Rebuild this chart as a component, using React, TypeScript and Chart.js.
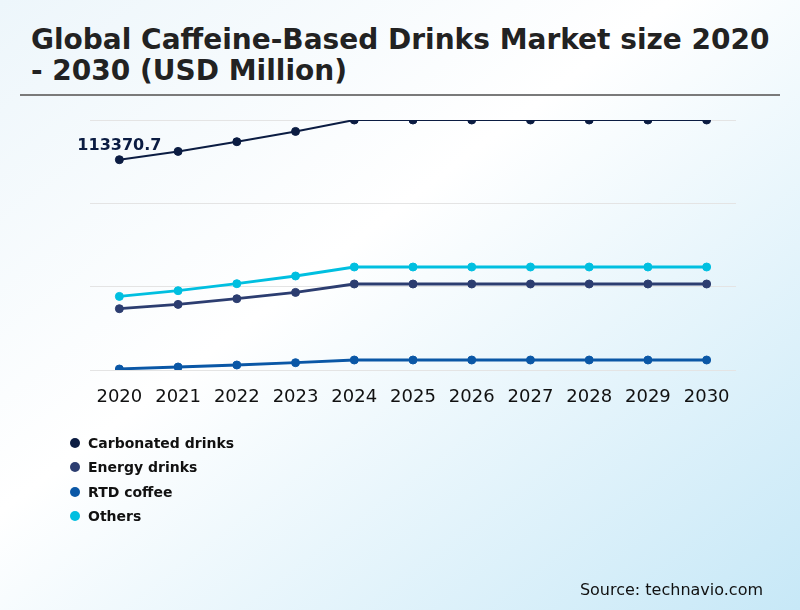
import React, { useEffect, useRef } from "react";
import { Chart, registerables } from "chart.js";

Chart.register(...registerables);

const years = ["2020", "2021", "2022", "2023", "2024", "2025", "2026", "2027", "2028", "2029", "2030"];
const carbonated = [113370.7, 117070, 121400, 125990, 131080, 131080, 131080, 131080, 131080, 131080, 131080];
const energy = [46900, 48820, 51360, 54170, 57920, 57920, 57920, 57920, 57920, 57920, 57920];
const rtdCoffee = [20000, 20890, 21780, 22810, 24010, 24010, 24010, 24010, 24010, 24010, 24010];
const others = [52390, 54930, 58050, 61490, 65500, 65500, 65500, 65500, 65500, 65500, 65500];
const seriesNames = ["Carbonated drinks", "Energy drinks", "RTD coffee", "Others"];
const seriesColors = ["#0b1c42", "#2c3d70", "#0a57a6", "#00bfe0"];
const yMin = 19550;
const yMax = 131080;

const FONT = "'DejaVu Sans', sans-serif";

const labelPlugin = {
  id: "firstLabel",
  afterDatasetsDraw(chart: any) {
    const meta = chart.getDatasetMeta(0);
    const pt = meta.data[0];
    if (!pt) return;
    const ctx = chart.ctx;
    ctx.save();
    ctx.font = "bold 16px " + FONT;
    ctx.fillStyle = seriesColors[0];
    ctx.textAlign = "center";
    ctx.textBaseline = "alphabetic";
    ctx.fillText(String(carbonated[0]), pt.x, pt.y - 9.5);
    ctx.restore();
  },
};

export default function App() {
  const ref = useRef<HTMLCanvasElement | null>(null);
  useEffect(() => {
    if (!ref.current) return;
    const data = [carbonated, energy, rtdCoffee, others];
    const widths = [2, 2.8, 2.8, 2.8];
    const chart = new Chart(ref.current, {
      type: "line",
      data: {
        labels: years,
        datasets: data.map((d, i) => ({
          label: seriesNames[i],
          data: d,
          borderColor: seriesColors[i],
          backgroundColor: seriesColors[i],
          pointBackgroundColor: seriesColors[i],
          pointBorderColor: seriesColors[i],
          borderWidth: widths[i],
          pointRadius: 4,
          pointBorderWidth: 1,
          tension: 0,
          fill: false,
        })),
      },
      options: {
        responsive: false,
        animation: false,
        layout: { padding: { left: 90, right: 64, top: 120, bottom: 200 } },
        plugins: {
          legend: { display: false },
          title: { display: false },
          tooltip: { enabled: false },
        },
        scales: {
          x: {
            offset: true,
            grid: { display: false, drawTicks: false },
            border: { display: false },
            ticks: {
              color: "#111111",
              font: { family: FONT, size: 18 },
              padding: 17,
              maxRotation: 0,
              autoSkip: false,
            },
            afterFit: (s: any) => {
              s.height = 40;
            },
          },
          y: {
            min: yMin,
            max: yMax,
            grid: { color: "#e4e4e4", lineWidth: 1, drawTicks: false },
            border: { display: false },
            ticks: { display: false },
            afterBuildTicks: (s: any) => {
              const t = [];
              for (let i = 0; i <= 3; i++) t.push({ value: yMin + (i * (yMax - yMin)) / 3 });
              s.ticks = t;
            },
            afterFit: (s: any) => {
              s.width = 0;
            },
          },
        },
      },
      plugins: [labelPlugin],
    });
    return () => chart.destroy();
  }, []);

  return (
    <div
      style={{
        position: "fixed",
        left: 0,
        top: 0,
        width: 800,
        height: 610,
        overflow: "hidden",
        background: "linear-gradient(to bottom right, #edf6fb 0%, #ffffff 42%, #c7e8f7 100%)",
        fontFamily: FONT,
      }}
    >
      <div
        style={{
          position: "absolute",
          left: 31,
          top: 24,
          fontSize: 28,
          fontWeight: "bold",
          lineHeight: "31px",
          color: "#222222",
          whiteSpace: "nowrap",
        }}
      >
        Global Caffeine-Based Drinks Market size 2020
        <br />- 2030 (USD Million)
      </div>
      <div style={{ position: "absolute", left: 20, top: 94, width: 760, height: 2, background: "#7a7a7a" }} />
      <canvas ref={ref} width={800} height={610} style={{ position: "absolute", left: 0, top: 0 }} />
      <div style={{ position: "absolute", left: 70, top: 431 }}>
        {seriesNames.map((n, i) => (
          <div key={n} style={{ display: "flex", alignItems: "center", height: 24.3 }}>
            <span
              style={{
                display: "inline-block",
                width: 10,
                height: 10,
                borderRadius: 5,
                background: seriesColors[i],
                marginRight: 8,
              }}
            />
            <span style={{ fontSize: 14, fontWeight: "bold", color: "#111111" }}>{n}</span>
          </div>
        ))}
      </div>
      <div style={{ position: "absolute", right: 37, top: 580, fontSize: 16, color: "#111111" }}>
        Source: technavio.com
      </div>
    </div>
  );
}
